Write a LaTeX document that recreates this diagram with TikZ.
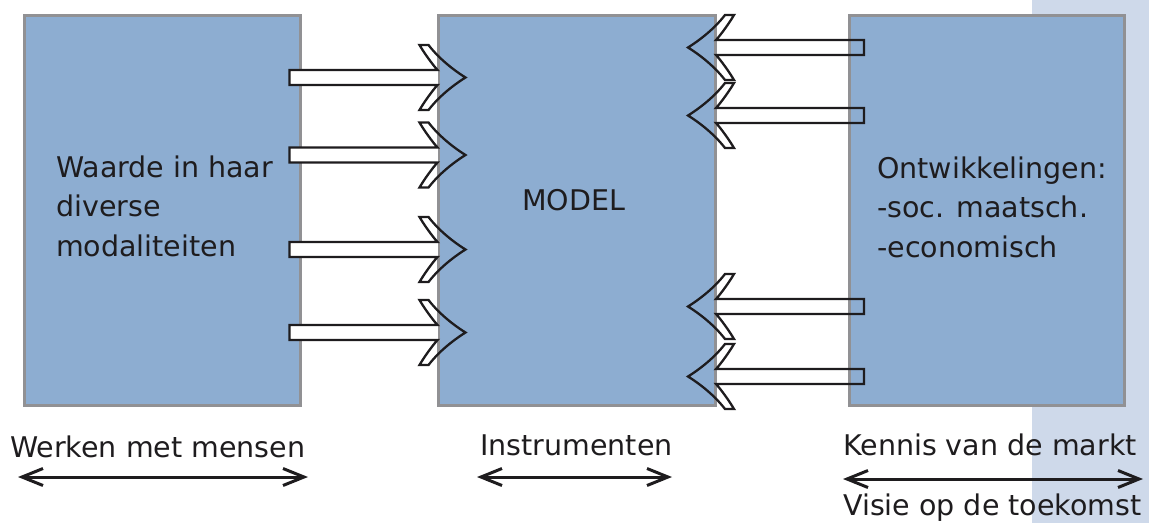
\documentclass[tikz,border=0pt]{standalone}
\usepackage{fontspec}
\setmainfont{DejaVu Sans}
\usetikzlibrary{arrows.meta}
\definecolor{boxfill}{RGB}{141,173,209}
\definecolor{boxline}{RGB}{145,145,148}
\definecolor{bandcol}{RGB}{206,217,234}
\definecolor{ink}{RGB}{30,28,30}
\tikzset{
  box/.style={draw=boxline, line width=3pt, fill=boxfill, minimum width=#1, minimum height=390pt, inner sep=0pt},
  txt/.style={anchor=base west, inner sep=0pt, text=ink, font=\fontsize{28.5}{34}\selectfont},
  outline/.style={draw=ink, line width=2.3pt, line join=miter},
  span/.style={draw=ink, line width=3pt, {Straight Barb[length=21pt,width=17pt]}-{Straight Barb[length=21pt,width=17pt]}},
  barrowfilled/.pic={
    \fill[white] (-#1,-7.5) rectangle (0,7.5);
    \draw[outline] (-#1,-7.5) -- (0,-7.5) .. controls (-5,-13) and (-13,-24) .. (-18,-32.5) -- (-9,-32.5)
      .. controls (-1,-22) and (12,-10) .. (28,0) .. controls (12,10) and (-1,22) .. (-9,32.5) -- (-18,32.5)
      .. controls (-13,24) and (-5,13) .. (0,7.5) -- (-#1,7.5) -- cycle;
  },
  barrowopen/.pic={
    \draw[outline] (-#1,-7.5) -- (0,-7.5) .. controls (-5,-13) and (-13,-24) .. (-18,-32.5) -- (-9,-32.5)
      .. controls (-1,-22) and (12,-10) .. (28,0) .. controls (12,10) and (-1,22) .. (-9,32.5) -- (-18,32.5)
      .. controls (-13,24) and (-5,13) .. (0,7.5) -- (-#1,7.5) -- cycle;
  }
}
\begin{document}
\begin{tikzpicture}[x=1pt,y=-1pt]
\useasboundingbox (0,0) rectangle (1149,523);
\fill[bandcol] (1032,0) rectangle (1149,523);
% boxes
\node[box=276pt] (L) at (162.5,210.5) {};
\node[box=277pt] (M) at (577,210.5) {};
\node[box=275pt] (R) at (987,210.5) {};
% box texts
\node[txt] (Ltext) at (56,177) {\vtop{\baselineskip=39.7pt\hbox{Waarde in haar}\hbox{diverse}\hbox{modaliteiten}}};
\node[txt] (Mtext) at (522,210) {MODEL};
\node[txt] (Rtext) at (877,178) {\vtop{\baselineskip=39.7pt\hbox{Ontwikkelingen:}\hbox{-soc. maatsch.}\hbox{-economisch}}};
% left-to-right block arrows
\pic at (437.5,77.5) {barrowfilled=148};
\pic at (437.5,155) {barrowfilled=148};
\pic at (437.5,249.5) {barrowfilled=148};
\pic at (437.5,332.5) {barrowfilled=148};
% right-to-left block arrows
\pic[xscale=-1] at (716,47.5) {barrowopen=148};
\pic[xscale=-1] at (716,115.5) {barrowopen=148};
\pic[xscale=-1] at (716,306.5) {barrowopen=148};
\pic[xscale=-1] at (716,376.5) {barrowopen=148};
% bottom labels
\node[txt] (werk) at (10,457) {Werken met mensen};
\node[txt] (instr) at (480,455) {Instrumenten};
\node[txt] (kennis) at (843,455) {Kennis van de markt};
\node[txt] (visie) at (843,515) {Visie op de toekomst};
% spans
\coordinate (w1) at (18,477);
\coordinate (w2) at (308,477);
\coordinate (i1) at (477,477);
\coordinate (i2) at (672,477);
\coordinate (k1) at (843,479);
\coordinate (k2) at (1143,479);
\draw[span] (w1) -- (w2);
\draw[span] (i1) -- (i2);
\draw[span] (k1) -- (k2);
\end{tikzpicture}
\end{document}
